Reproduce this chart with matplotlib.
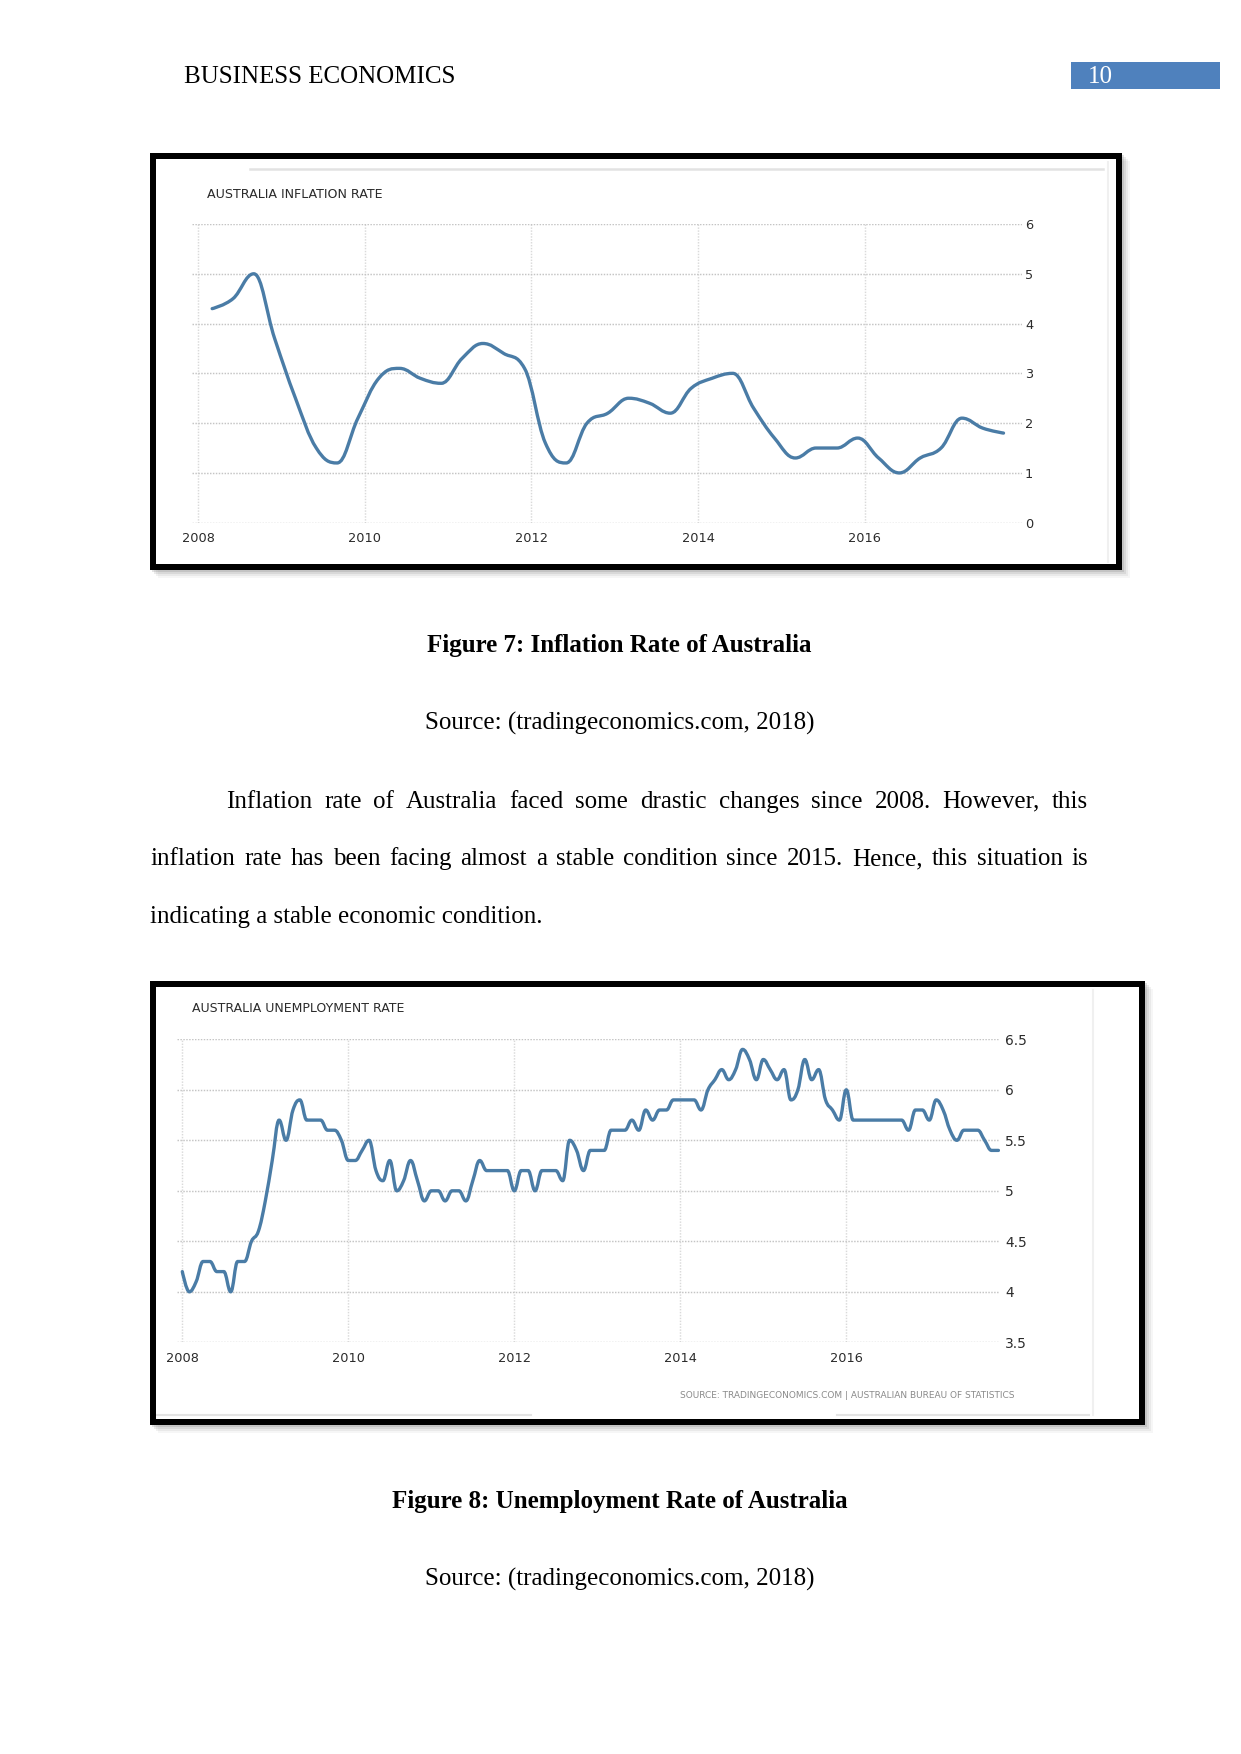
import numpy as np
import pandas as pd
import matplotlib
matplotlib.use("Agg")
import matplotlib.pyplot as plt
from matplotlib.path import Path
from matplotlib.patches import PathPatch, Rectangle

W, H = 1241, 1754
DPI = 150

SERIF = "Liberation Serif"
SANS = "DejaVu Sans"
LINE_COLOR = "#4a7ca6"
LABEL_COLOR = "#2b2b2b"

# --- data ---
# quarterly CPI yoy, first quarter = Mar 2008
infl_start = "2008-03-01"
infl_values = [4.3, 4.5, 5.0, 3.7,
               2.5, 1.5, 1.2, 2.1,
               2.9, 3.1, 2.9, 2.8,
               3.3, 3.6, 3.4, 3.1,
               1.6, 1.2, 2.0, 2.2,
               2.5, 2.4, 2.2, 2.7,
               2.9, 3.0, 2.3, 1.7,
               1.3, 1.5, 1.5, 1.7,
               1.3, 1.0, 1.3, 1.5,
               2.1, 1.9, 1.8]
infl_yticks = [0, 1, 2, 3, 4, 5, 6]

# monthly unemployment rate, first month = Jan 2008
unemp_start = "2008-01-01"
unemp_2008 = [4.2, 4.0, 4.1, 4.3, 4.3, 4.2, 4.2, 4.0, 4.3, 4.3, 4.5, 4.6]
unemp_2009 = [4.9, 5.3, 5.7, 5.5, 5.8, 5.9, 5.7, 5.7, 5.7, 5.6, 5.6, 5.5]
unemp_2010 = [5.3, 5.3, 5.4, 5.5, 5.2, 5.1, 5.3, 5.0, 5.1, 5.3, 5.1, 4.9]
unemp_2011 = [5.0, 5.0, 4.9, 5.0, 5.0, 4.9, 5.1, 5.3, 5.2, 5.2, 5.2, 5.2]
unemp_2012 = [5.0, 5.2, 5.2, 5.0, 5.2, 5.2, 5.2, 5.1, 5.5, 5.4, 5.2, 5.4]
unemp_2013 = [5.4, 5.4, 5.6, 5.6, 5.6, 5.7, 5.6, 5.8, 5.7, 5.8, 5.8, 5.9]
unemp_2014 = [5.9, 5.9, 5.9, 5.8, 6.0, 6.1, 6.2, 6.1, 6.2, 6.4, 6.3, 6.1]
unemp_2015 = [6.3, 6.2, 6.1, 6.2, 5.9, 6.0, 6.3, 6.1, 6.2, 5.9, 5.8, 5.7]
unemp_2016 = [6.0, 5.7, 5.7, 5.7, 5.7, 5.7, 5.7, 5.7, 5.7, 5.6, 5.8, 5.8]
unemp_2017 = [5.7, 5.9, 5.8, 5.6, 5.5, 5.6, 5.6, 5.6, 5.5, 5.4, 5.4]
unemp_yticks = [3.5, 4, 4.5, 5, 5.5, 6, 6.5]
unemp_ylabels = ["3.5", "4", "4.5", "5", "5.5", "6", "6.5"]

x_ticks = [2008, 2010, 2012, 2014, 2016]

header = "BUSINESS ECONOMICS"
page_no = "10"
fig7_caption = "Figure 7: Inflation Rate of Australia"
fig8_caption = "Figure 8: Unemployment Rate of Australia"
source_line = "Source: (tradingeconomics.com, 2018)"
para_lines = [
    "Inflation rate of Australia faced some drastic changes since 2008. However, this",
    "inflation rate has been facing almost a stable condition since 2015. Hence, this situation is",
    "indicating a stable economic condition.",
]


def to_years(start, n, step):
    d = pd.date_range(start, periods=n, freq=f"{step}MS")
    return np.asarray(d.year + (d.month - 1) / 12.0, dtype=float)


def spline_path(x, y, smoothing=1.5):
    # highcharts-style spline: passes through every point, no false extremes
    x = np.asarray(x, float)
    y = np.asarray(y, float)
    n = len(x)
    lc = np.column_stack([x, y])
    rc = lc.copy()
    d = smoothing + 1
    for i in range(1, n - 1):
        lx = (smoothing * x[i] + x[i - 1]) / d
        ly = (smoothing * y[i] + y[i - 1]) / d
        rx = (smoothing * x[i] + x[i + 1]) / d
        ry = (smoothing * y[i] + y[i + 1]) / d
        corr = (ry - ly) * (rx - x[i]) / (rx - lx) + y[i] - ry
        ly += corr
        ry += corr
        if ly > y[i - 1] and ly > y[i]:
            ly = max(y[i - 1], y[i]); ry = 2 * y[i] - ly
        elif ly < y[i - 1] and ly < y[i]:
            ly = min(y[i - 1], y[i]); ry = 2 * y[i] - ly
        if ry > y[i + 1] and ry > y[i]:
            ry = max(y[i + 1], y[i]); ly = 2 * y[i] - ry
        elif ry < y[i + 1] and ry < y[i]:
            ry = min(y[i + 1], y[i]); ly = 2 * y[i] - ry
        lc[i] = lx, ly
        rc[i] = rx, ry
    verts = [(x[0], y[0])]
    codes = [Path.MOVETO]
    for i in range(1, n):
        verts += [tuple(rc[i - 1]), tuple(lc[i]), (x[i], y[i])]
        codes += [Path.CURVE4] * 3
    return Path(verts, codes)


fig = plt.figure(figsize=(W / DPI, H / DPI), dpi=DPI)
fig.patch.set_facecolor("white")

# page axes in pixel coordinates (y down)
page = fig.add_axes([0, 0, 1, 1])
page.set_xlim(0, W)
page.set_ylim(H, 0)
page.axis("off")


def px_axes(x0, y0, x1, y1):
    return fig.add_axes([x0 / W, 1 - y1 / H, (x1 - x0) / W, (y1 - y0) / H])


def framed_box(x0, y0, x1, y1, lw_px=6):
    w, h = x1 - x0, y1 - y0
    for k, a in [(8, 0.06), (6, 0.09), (4, 0.13), (2, 0.18)]:
        page.add_patch(Rectangle((x0 + k, y0 + k), w, h, facecolor="#666666",
                                 alpha=a, lw=0, zorder=1))
    page.add_patch(Rectangle((x0, y0), w, h, facecolor="white", lw=0, zorder=2))
    half = lw_px / 2
    page.add_patch(Rectangle((x0 + half, y0 + half), w - lw_px, h - lw_px, fill=False,
                             edgecolor="black", lw=lw_px * 72 / DPI, zorder=5))


def style_chart(ax, xlim, ylim, yticks, ylabels, ypad_px, xpad_px, ysize):
    ax.set_facecolor("none")
    ax.set_xlim(*xlim)
    ax.set_ylim(*ylim)
    for s in ax.spines.values():
        s.set_visible(False)
    ax.set_xticks(x_ticks)
    ax.set_xticklabels([str(t) for t in x_ticks])
    ax.set_yticks(yticks)
    ax.set_yticklabels(ylabels)
    ax.yaxis.tick_right()
    ax.tick_params(axis="y", length=0, pad=ypad_px * 72 / DPI, labelsize=ysize,
                   labelcolor=LABEL_COLOR)
    ax.tick_params(axis="x", length=0, pad=xpad_px * 72 / DPI, labelsize=6.2,
                   labelcolor=LABEL_COLOR)
    for lab in ax.get_xticklabels() + ax.get_yticklabels():
        lab.set_family(SANS)
    ax.yaxis.grid(True, color="#c4c4c4", linestyle=(0, (1, 1)), linewidth=0.7)
    ax.xaxis.grid(True, color="#dadada", linestyle=(0, (1, 1)), linewidth=0.7)
    ax.set_axisbelow(True)


# ---------------- header ----------------
page.text(183.5, 83.3, header, family=SERIF, fontsize=12, va="baseline", ha="left",
          zorder=6)
page.add_patch(Rectangle((1071, 61.5), 149, 27, facecolor="#4f81bd", lw=0, zorder=3))
page.text(1088, 83.3, page_no, family=SERIF, fontsize=12, color="white",
          va="baseline", ha="left", zorder=6)

# ---------------- chart 1: inflation ----------------
framed_box(150, 153, 1122, 570)
page.plot([250, 1103], [169, 169], color="#e2e2e2", lw=1.2, zorder=3)
page.plot([1108, 1108], [162, 562], color="#f0f0f0", lw=1.0, zorder=3)
page.text(207, 194, "AUSTRALIA INFLATION RATE", family=SANS, fontsize=6.05,
          color=LABEL_COLOR, va="center", ha="left", zorder=6)

ax1 = px_axes(191.7, 224, 1021.7, 522.7)
style_chart(ax1, (2007.921, 2017.885), (0, 6), infl_yticks,
            [str(v) for v in infl_yticks], 3.3, 9.5, 6.2)
ix = to_years(infl_start, len(infl_values), 3)
ax1.add_patch(PathPatch(spline_path(ix, infl_values), facecolor="none",
                        edgecolor=LINE_COLOR, lw=1.6, capstyle="round",
                        joinstyle="round", zorder=3))

# ---------------- chart 2: unemployment ----------------
framed_box(150, 981, 1145, 1425)
page.plot([1093, 1093], [990, 1415], color="#f0f0f0", lw=1.0, zorder=3)
page.plot([156, 531], [1415, 1415], color="#e4e4e4", lw=1.0, zorder=3)
page.plot([837, 1089], [1415, 1415], color="#e4e4e4", lw=1.0, zorder=3)
page.text(191.5, 1008, "AUSTRALIA UNEMPLOYMENT RATE", family=SANS, fontsize=6.0,
          color=LABEL_COLOR, va="center", ha="left", zorder=6)
page.text(1014, 1395, "SOURCE: TRADINGECONOMICS.COM | AUSTRALIAN BUREAU OF STATISTICS",
          family=SANS, fontsize=4.35, color="#8a8a8a", va="center", ha="right", zorder=6)

ax2 = px_axes(177, 1039.3, 1000, 1342.3)
style_chart(ax2, (2007.936, 2017.852), (3.5, 6.5), unemp_yticks, unemp_ylabels,
            5, 10, 6.6)
unemp_values = (unemp_2008 + unemp_2009 + unemp_2010 + unemp_2011 + unemp_2012
                + unemp_2013 + unemp_2014 + unemp_2015 + unemp_2016 + unemp_2017)
ux = to_years(unemp_start, len(unemp_values), 1)
ax2.add_patch(PathPatch(spline_path(ux, unemp_values), facecolor="none",
                        edgecolor=LINE_COLOR, lw=1.6, capstyle="round",
                        joinstyle="round", zorder=3))

# ---------------- captions and paragraph ----------------
CENTER_X = 619.5
page.text(CENTER_X, 652.3, fig7_caption, family=SERIF, fontsize=12, weight="bold",
          ha="center", va="baseline", zorder=6)
page.text(CENTER_X, 730, source_line, family=SERIF, fontsize=12,
          ha="center", va="baseline", zorder=6)
page.text(CENTER_X, 1508.4, fig8_caption, family=SERIF, fontsize=12, weight="bold",
          ha="center", va="baseline", zorder=6)
page.text(CENTER_X, 1586, source_line, family=SERIF, fontsize=12,
          ha="center", va="baseline", zorder=6)

renderer = fig.canvas.get_renderer()


def justify(text, x0, x1, y):
    words = text.split()
    items = [page.text(x0, y, w, family=SERIF, fontsize=12, ha="left",
                       va="baseline", zorder=6) for w in words]
    widths = [t.get_window_extent(renderer).width for t in items]
    gap = (x1 - x0 - sum(widths)) / (len(words) - 1)
    x = x0
    for t, w in zip(items, widths):
        t.set_x(x)
        x += w + gap


justify(para_lines[0], 226, 1088, 807.7)
justify(para_lines[1], 150.5, 1088, 865)
page.text(150.5, 922.7, para_lines[2], family=SERIF, fontsize=12, ha="left",
          va="baseline", zorder=6)

fig.savefig("out.png", dpi=DPI, facecolor="white")
